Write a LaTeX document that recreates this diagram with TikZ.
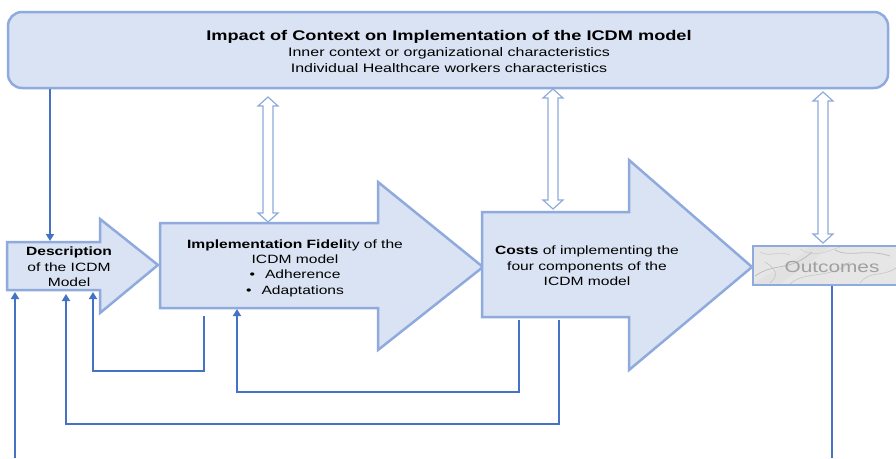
\documentclass[tikz,border=0pt]{standalone}
\usepackage{fontspec}
\setmainfont{Liberation Sans}[FakeStretch=1.3]
\usetikzlibrary{arrows.meta}
\definecolor{fillblue}{HTML}{DAE3F3}
\definecolor{edgeblue}{HTML}{8FAADC}
\definecolor{linkblue}{HTML}{4472C4}
\definecolor{marble}{HTML}{E6E6E6}
\definecolor{outtext}{HTML}{A0A0A0}
\tikzset{
  bigarrow/.style={fill=fillblue, draw=edgeblue, line width=2.5pt, line join=miter},
  ctxbox/.style={fill=fillblue, draw=edgeblue, line width=2.5pt, rounded corners=14pt},
  dblarrow/.style={fill=white, draw=edgeblue, line width=1.2pt, line join=miter},
  link/.style={draw=linkblue, line width=1.8pt},
  linkarrow/.style={link, -{Triangle[length=7pt,width=8pt]}},
  txt/.style={align=center, inner sep=0pt, font=\fontsize{12}{15.3}\selectfont},
}
\newcommand{\dblarr}[3]{% x, y1, y2
  \path[dblarrow] (#1,#2) -- (#1+10,#2+9) -- (#1+5,#2+9) -- (#1+5,#3-9) -- (#1+10,#3-9)
    -- (#1,#3) -- (#1-10,#3-9) -- (#1-5,#3-9) -- (#1-5,#2+9) -- (#1-10,#2+9) -- cycle;}
\begin{document}
\begin{tikzpicture}[x=1pt,y=-1pt]
\useasboundingbox (0,0) rectangle (896,458);
\fill[white] (0,0) rectangle (896,458);

% context box
\node[ctxbox, minimum width=880pt, minimum height=76pt, inner sep=0pt] (ctx) at (448,50) {};
\node[align=center, inner sep=0pt, font=\fontsize{12.3}{16}\selectfont] (ctxtext) at (449,51)
  {{\bfseries\fontsize{14}{16}\selectfont Impact of Context on Implementation of the ICDM model}\\
   Inner context or organizational characteristics\\
   Individual Healthcare workers characteristics};

% big arrows
\path[bigarrow] (7,242) -- (100,242) -- (100,219) -- (158,265) -- (100,313) -- (100,290) -- (7,290) -- cycle;
\path[bigarrow] (160,223) -- (378,223) -- (378,182) -- (483,267) -- (378,350) -- (378,308) -- (160,308) -- cycle;
\path[bigarrow] (482,212) -- (629,212) -- (629,160) -- (752,267) -- (629,370) -- (629,317) -- (482,317) -- cycle;

\node[txt] (desc) at (69,267) {\textbf{Description}\\of the ICDM\\Model};
\node[txt, font=\fontsize{12}{15.3}\selectfont] (fid) at (295,268) {\textbf{Implementation Fideli}ty of the\\ICDM model\\
  •\hspace{10pt}Adherence\\•\hspace{10pt}Adaptations};
\node[txt] (cost) at (587,266) {\textbf{Costs} of implementing the\\four components of the\\ICDM model};

% outcomes box with marble texture
\begin{scope}
  \clip (753,246) rectangle (896,285);
  \fill[marble] (753,246) rectangle (896,285);
  \fill[gray!25, opacity=0.6] (753,285) .. controls (770,270) and (790,268) .. (810,246) -- (830,246) .. controls (810,265) and (790,275) .. (780,285) -- cycle;
  \draw[gray!55, line width=0.7pt] (755,276) .. controls (775,262) and (790,272) .. (812,252);
  \draw[gray!45, line width=0.6pt] (790,284) .. controls (805,270) and (830,280) .. (850,262);
  \draw[gray!50, line width=0.8pt] (835,250) .. controls (850,258) and (865,248) .. (890,256);
  \draw[gray!40, line width=0.6pt] (760,252) .. controls (770,258) and (778,250) .. (790,255);
  \draw[gray!45, line width=0.6pt] (860,283) .. controls (870,270) and (880,278) .. (896,268);
  \draw[gray!40, line width=0.5pt] (800,249) .. controls (815,258) and (825,252) .. (840,247);
  \draw[gray!50, line width=0.5pt] (770,283) .. controls (780,275) and (775,268) .. (765,262);
\end{scope}
\draw[edgeblue, line width=2.5pt] (898,246) -- (753,246) -- (753,285) -- (898,285);
\node[inner sep=0pt, text=outtext, font=\fontsize{16}{18}\selectfont] (out) at (832,267) {Outcomes};

% hollow double arrows
\dblarr{268}{97}{222}
\dblarr{553}{89}{209}
\dblarr{823}{92}{243}

% connector coordinates
\coordinate (c1a) at (50,89);
\coordinate (c1b) at (50,241);
\coordinate (c2a) at (15,458);
\coordinate (c2b) at (15,292);
\coordinate (c3a) at (559,320);
\coordinate (c3b) at (66,424);
\coordinate (c3c) at (66,294);
\coordinate (c4a) at (204,316);
\coordinate (c4b) at (93,371);
\coordinate (c4c) at (93,292);
\coordinate (c5a) at (519,320);
\coordinate (c5b) at (237,392);
\coordinate (c5c) at (237,309);
\coordinate (c6a) at (832,286);
\coordinate (c6b) at (832,458);

\draw[linkarrow] (c1a) -- (c1b);
\draw[linkarrow] (c2a) -- (c2b);
\draw[linkarrow] (c3a) |- (c3b) -- (c3c);
\draw[linkarrow] (c4a) |- (c4b) -- (c4c);
\draw[linkarrow] (c5a) |- (c5b) -- (c5c);
\draw[link] (c6a) -- (c6b);
\end{tikzpicture}
\end{document}
